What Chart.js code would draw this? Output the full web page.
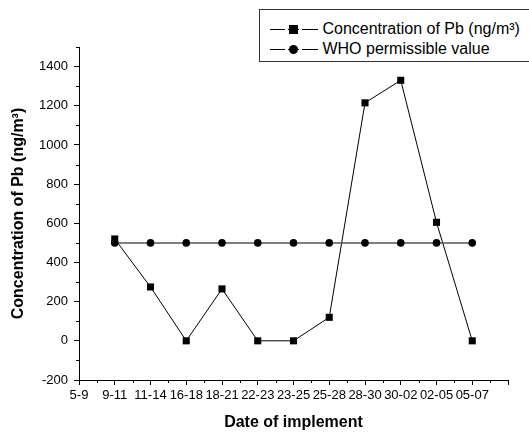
<!DOCTYPE html>
<html>
<head>
<meta charset="utf-8">
<script src="https://cdn.jsdelivr.net/npm/chart.js@4/dist/chart.umd.min.js"></script>
<style>
  html, body { margin: 0; padding: 0; background: #fff; overflow: hidden; }
  #wrap { position: relative; width: 529px; height: 435px; }
  #legend {
    position: absolute; left: 259px; top: 9px; width: 290px; height: 53px;
    border: 1px solid #333; background: #fff; box-sizing: border-box;
    font-family: "Liberation Sans", Arial, sans-serif; font-size: 16px; color: #000;
  }
  .row { position: absolute; left: 10px; height: 20px; line-height: 20px; white-space: nowrap; }
  .mk { display: inline-block; position: relative; width: 48px; height: 20px; vertical-align: top; }
  .mk .ln { position: absolute; left: 0; top: 10px; width: 48px; height: 1px; background: #000; }
  .mk .sym { position: absolute; left: 19px; top: 6px; width: 9px; height: 9px; background: #000; }
  .mk .sym.c { border-radius: 50%; }
  .mk .gap1 { position: absolute; left: 15px; top: 9px; width: 3px; height: 3px; background: #fff; }
  .mk .gap2 { position: absolute; left: 29px; top: 9px; width: 3px; height: 3px; background: #fff; }
</style>
</head>
<body>
<div id="wrap">
  <canvas id="lineChart" width="529" height="435"></canvas>
  <div id="legend">
    <div class="row" style="top:9px"><span class="mk"><span class="ln"></span><span class="gap1"></span><span class="gap2"></span><span class="sym"></span></span> Concentration of Pb (ng/m³)</div>
    <div class="row" style="top:29px"><span class="mk"><span class="ln"></span><span class="gap1"></span><span class="gap2"></span><span class="sym c"></span></span> WHO permissible value</div>
  </div>
</div>
<script>
const categories = ['5-9', '9-11', '11-14', '16-18', '18-21', '22-23', '23-25', '25-28', '28-30', '30-02', '02-05', '05-07', ''];
const pbValues = [null, 520, 275, 0, 265, 0, 0, 120, 1215, 1330, 605, 0];
const whoValues = [null, 500, 500, 500, 500, 500, 500, 500, 500, 500, 500, 500];
const yTicks = [-200, 0, 200, 400, 600, 800, 1000, 1200, 1400];
const yMinorTicks = [-100, 100, 300, 500, 700, 900, 1100, 1300, 1500];

const ctx = document.getElementById('lineChart').getContext('2d');

const font = "'Liberation Sans', Arial, sans-serif";

// minor ticks, drawn from the scales
const minorTicks = {
  id: 'minorTicks',
  afterDraw(chart) {
    const { ctx, scales: { x, y } } = chart;
    ctx.save();
    ctx.strokeStyle = '#000';
    ctx.lineWidth = 1;
    ctx.beginPath();
    for (let i = 0; i < categories.length - 1; i++) {
      const px = Math.round((x.getPixelForValue(i) + x.getPixelForValue(i + 1)) / 2) + 0.5;
      ctx.moveTo(px, x.top);
      ctx.lineTo(px, x.top + 3);
    }
    yMinorTicks.forEach(v => {
      const py = Math.round(y.getPixelForValue(v)) + 0.5;
      ctx.moveTo(y.right, py);
      ctx.lineTo(y.right - 3, py);
    });
    ctx.stroke();
    ctx.restore();
  }
};

const chart = new Chart(ctx, {
  type: 'line',
  data: {
    labels: categories,
    datasets: [
      {
        label: 'Concentration of Pb (ng/m³)',
        data: pbValues,
        borderColor: '#000',
        backgroundColor: '#000',
        borderWidth: 1,
        pointStyle: 'rect',
        pointRadius: 5,
        pointBorderWidth: 0,
        tension: 0,
        fill: false,
        order: 1
      },
      {
        label: 'WHO permissible value',
        data: whoValues,
        borderColor: '#555',
        backgroundColor: '#000',
        borderWidth: 1.5,
        pointStyle: 'circle',
        pointRadius: 3.8,
        pointBorderWidth: 0,
        tension: 0,
        fill: false,
        order: 0
      }
    ]
  },
  options: {
    responsive: false,
    animation: false,
    layout: { padding: { top: 47, right: 21, left: 0, bottom: 0 } },
    plugins: {
      legend: { display: false },
      tooltip: { enabled: false }
    },
    scales: {
      x: {
        type: 'category',
        offset: false,
        afterFit: s => { s.height = 55; },
        border: { color: '#000', width: 1 },
        grid: { drawOnChartArea: false, drawTicks: true, tickLength: 5, tickColor: '#000' },
        ticks: {
          color: '#000', autoSkip: false, maxRotation: 0, padding: 3,
          font: { family: font, size: 13 }
        },
        title: {
          display: true, text: 'Date of implement', color: '#000',
          font: { family: font, size: 16, weight: 'bold' },
          padding: { top: 0, bottom: 3 }
        }
      },
      y: {
        min: -200,
        max: 1500,
        afterFit: s => { s.width = 79; },
        afterBuildTicks: s => { s.ticks = yTicks.map(v => ({ value: v })); },
        border: { color: '#000', width: 1 },
        grid: { drawOnChartArea: false, drawTicks: true, tickLength: 5, tickColor: '#000' },
        ticks: {
          color: '#000', padding: 6,
          font: { family: font, size: 13 },
          callback: v => String(v)
        },
        title: {
          display: true, text: 'Concentration of Pb (ng/m³)', color: '#000',
          font: { family: font, size: 16, weight: 'bold' },
          padding: { top: 9, bottom: 0 }
        }
      }
    }
  },
  plugins: [minorTicks]
});
</script>
</body>
</html>
